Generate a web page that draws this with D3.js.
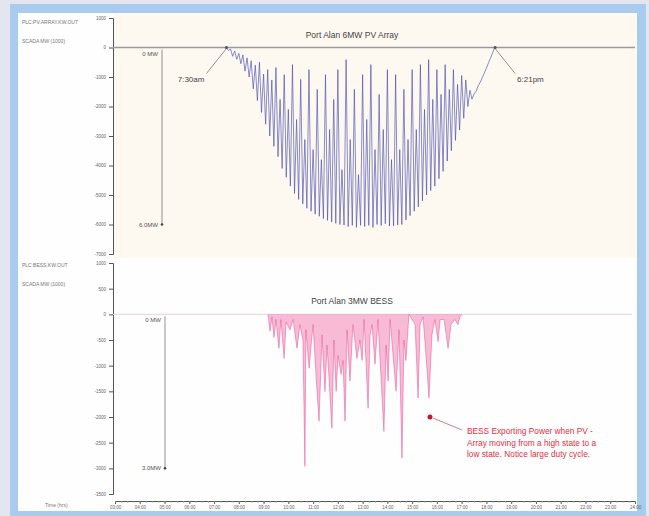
<!DOCTYPE html>
<html lang="en">
<head>
<meta charset="utf-8">
<style>
    body { margin: 0; background: #e4e6ef; }
    text { font-family: Arial, "Liberation Sans", sans-serif; }
</style>
</head>
<body>
    <script src="https://d3js.org/d3.v7.min.js"></script>
    <script>

        // PV array output, MW (negative = generating), logged every 5 min from 7:30am
        const pvStart = 7.5;
        const pvStepMin = 5;
        const pvMW = [
            0, -0.10, -0.05, -0.30, -0.12, -0.40, -0.20, -0.55, -0.25, -0.80, -0.35,
            -1.00, -0.45, -1.40, -0.60, -1.80, -0.50, -2.20, -0.90, -2.60, -0.75,
            -3.00, -1.10, -3.35, -0.68, -3.70, -1.76, -4.10, -0.92, -4.40, -2.10,
            -4.70, -0.58, -4.95, -2.44, -5.15, -1.08, -5.30, -3.12, -5.45, -0.75,
            -5.55, -3.46, -5.65, -1.42, -5.72, -3.80, -5.80, -0.92, -5.86, -2.78,
            -5.92, -1.76, -5.96, -0.75, -6.00, -4.14, -6.02, -0.41, -6.07, -3.12,
            -6.03, -1.42, -6.10, -4.31, -6.03, -0.92, -6.07, -2.44, -6.03, -0.58,
            -6.10, -3.46, -6.00, -1.59, -6.03, -2.78, -5.97, -0.75, -6.05, -3.80,
            -6.05, -0.92, -6.02, -3.46, -6.00, -1.42, -5.85, -3.12, -5.70, -0.75,
            -5.55, -2.78, -5.40, -0.58, -5.20, -2.10, -5.00, -0.41, -4.85, -1.76,
            -4.70, -0.75, -4.45, -1.59, -4.20, -0.58, -3.85, -1.42, -3.50, -0.75,
            -3.15, -1.25, -2.80, -0.95, -2.40, -1.10, -2.00, -1.45, -1.75, -1.58,
            -1.48, -1.30, -1.18, -1.02, -0.86, -0.70, -0.52, -0.36, -0.18, 0
        ];

        // BESS output, time in hours, MW
        const bessTime = [
            9.18, 9.26, 9.34, 9.42, 9.50, 9.62, 9.70, 9.83, 9.91, 10.07,
            10.19, 10.35, 10.47, 10.59, 10.67, 10.71, 10.84, 10.92, 11.00, 11.12,
            11.24, 11.36, 11.48, 11.56, 11.64, 11.76, 11.84, 11.93, 12.01, 12.13,
            12.21, 12.29, 12.37, 12.49, 12.61, 12.77, 12.89, 12.98, 13.06, 13.22,
            13.30, 13.38, 13.50, 13.62, 13.74, 13.86, 13.95, 14.03, 14.11, 14.23,
            14.35, 14.47, 14.59, 14.67, 14.75, 14.87, 15.12, 15.24, 15.32, 15.44,
            15.56, 15.68, 15.80, 15.92, 16.05, 16.13, 16.29, 16.45, 16.57, 16.73,
            16.85, 16.93, 17.01
        ];
        const bessMW = [
            0, -0.33, -0.05, -0.45, -0.10, -0.66, -0.10, -0.86, -0.15, -0.30,
            -0.10, -0.66, -0.20, -0.50, -2.96, -0.30, -1.05, -0.60, -0.20, -1.20,
            -2.08, -0.40, -1.50, -0.60, -1.20, -2.22, -0.50, -1.50, -0.80, -1.17,
            -0.90, -2.08, -0.30, -1.30, -0.20, -0.86, -0.50, -0.90, -0.10, -1.83,
            -0.40, -0.20, -0.97, -0.10, -1.20, -2.28, -0.60, -1.30, -0.10, -0.80,
            -1.50, -0.30, -2.80, -0.50, -0.90, 0, -0.20, -1.63, -0.20, -0.05,
            -0.80, -1.63, -0.40, -0.10, -0.53, -0.10, -0.10, -0.66, -0.20, -0.10,
            -0.20, -0.05, 0
        ];

        const hourTicks = [3, 4, 5, 6, 7, 8, 9, 10, 11, 12, 13, 14, 15, 16, 17, 18, 19, 20, 21, 22, 23, 24];
        const pvTicks = [1, 0, -1, -2, -3, -4, -5, -6, -7];
        const bessTicks = [1, 0.5, 0, -0.5, -1, -1.5, -2, -2.5, -3, -3.5];

        const width = 649;
        const height = 516;

        var svg = d3.select("body")
            .append("svg")
            .attr("width", width)
            .attr("height", height);

        // window frame
        svg.append("rect").attr("width", width).attr("height", height).attr("fill", "#e4e6ef");
        svg.append("rect").attr("x", 10).attr("y", 4).attr("width", 636).attr("height", 512).attr("fill", "#a9ccee");
        svg.append("rect").attr("x", 18).attr("y", 13).attr("width", 619).attr("height", 498).attr("fill", "#fefefe");
        svg.append("rect").attr("x", 114).attr("y", 13).attr("width", 523).attr("height", 245).attr("fill", "#fdf9f1");

        var x = d3.scaleLinear().domain([3, 24]).range([115, 635]);
        var yTop = d3.scaleLinear().domain([1, -7]).range([18, 254]);
        var yBot = d3.scaleLinear().domain([1, -3.5]).range([263, 494]);

        function styleAxis(g) {
            g.selectAll("path, line").attr("stroke", "#555");
            g.selectAll("text").attr("font-size", "4.5px").attr("fill", "#666");
        }

        svg.append("g")
            .attr("transform", "translate(113,0)")
            .call(d3.axisLeft(yTop).tickValues(pvTicks).tickSize(4).tickFormat(d => d * 1000))
            .call(styleAxis);

        svg.append("g")
            .attr("transform", "translate(113,0)")
            .call(d3.axisLeft(yBot).tickValues(bessTicks).tickSize(4).tickFormat(d => d * 1000))
            .call(styleAxis);

        svg.append("g")
            .attr("transform", "translate(0,501)")
            .call(d3.axisBottom(x).tickValues(hourTicks).tickSize(3).tickPadding(2)
                .tickFormat(d => String(d).padStart(2, "0") + ":00"))
            .call(styleAxis);

        // minor ticks on time axis
        svg.append("g")
            .attr("transform", "translate(0,501)")
            .call(d3.axisBottom(x).tickValues(d3.range(3, 24.01, 0.25)).tickSize(1.5).tickFormat(""))
            .call(g => g.select(".domain").remove())
            .call(g => g.selectAll("line").attr("stroke", "#888"));

        // left labels
        var leftLabels = [
            [22, 24, "PLC:PV.ARRAY.KW.OUT"],
            [22, 43, "SCADA MW (1000)"],
            [22, 267, "PLC:BESS.KW.OUT"],
            [22, 286, "SCADA MW (1000)"],
            [45, 507, "Time (hrs)"]
        ];
        svg.selectAll(".lbl").data(leftLabels).enter().append("text")
            .attr("x", d => d[0]).attr("y", d => d[1])
            .attr("font-size", "5px").attr("fill", "#777")
            .text(d => d[2]);

        // ---- top panel: PV ----
        svg.append("line")
            .attr("x1", 113).attr("x2", 635)
            .attr("y1", yTop(0)).attr("y2", yTop(0))
            .attr("stroke", "#9a9a9a").attr("stroke-width", 1.3);

        svg.append("text")
            .attr("x", 352).attr("y", 38)
            .attr("text-anchor", "middle").attr("font-size", "8.5px").attr("fill", "#444")
            .text("Port Alan 6MW PV Array");

        var pvData = pvMW.map((v, i) => ({ t: pvStart + i * pvStepMin / 60, v: v }));
        svg.append("path")
            .datum(pvData)
            .attr("fill", "none")
            .attr("stroke", "#4a4eae")
            .attr("stroke-width", 0.9)
            .attr("stroke-opacity", 0.72)
            .attr("d", d3.line().x(d => x(d.t)).y(d => yTop(d.v)));

        // sunrise / sunset markers
        var pvMarks = [[7.5, "7:30am", -1], [18.35, "6:21pm", 1]];
        pvMarks.forEach(function (m) {
            var mx = x(m[0]), my = yTop(0);
            svg.append("line")
                .attr("x1", mx).attr("y1", my + 1)
                .attr("x2", mx + m[2] * 20).attr("y2", my + 26)
                .attr("stroke", "#666").attr("stroke-width", 0.7);
            svg.append("circle").attr("cx", mx).attr("cy", my).attr("r", 1.5).attr("fill", "#555");
            svg.append("text")
                .attr("x", mx + m[2] * 22).attr("y", my + 34)
                .attr("text-anchor", m[2] < 0 ? "end" : "start")
                .attr("font-size", "8px").attr("fill", "#444")
                .text(m[1]);
        });

        // scale bar
        function scaleBar(xPos, yScale, lo, label0, label1) {
            svg.append("line")
                .attr("x1", xPos).attr("x2", xPos)
                .attr("y1", yScale(0) + 2).attr("y2", yScale(lo))
                .attr("stroke", "#777").attr("stroke-width", 0.8);
            svg.append("circle").attr("cx", xPos).attr("cy", yScale(lo)).attr("r", 1.3).attr("fill", "#444");
            svg.append("text").attr("x", xPos - 4).attr("y", yScale(0) + 8)
                .attr("text-anchor", "end").attr("font-size", "6px").attr("fill", "#555").text(label0);
            svg.append("text").attr("x", xPos - 4).attr("y", yScale(lo) + 2)
                .attr("text-anchor", "end").attr("font-size", "6px").attr("fill", "#555").text(label1);
        }
        scaleBar(162, yTop, -6, "0 MW", "6.0MW");

        // ---- bottom panel: BESS ----
        svg.append("line")
            .attr("x1", 113).attr("x2", 632)
            .attr("y1", yBot(0)).attr("y2", yBot(0))
            .attr("stroke", "#e6d3d8").attr("stroke-width", 1);

        svg.append("text")
            .attr("x", 352).attr("y", 304)
            .attr("text-anchor", "middle").attr("font-size", "8.5px").attr("fill", "#444")
            .text("Port Alan 3MW BESS");

        scaleBar(165, yBot, -3, "0 MW", "3.0MW");

        var bessData = bessTime.map((t, i) => ({ t: t, v: bessMW[i] }));
        svg.append("path")
            .datum(bessData)
            .attr("fill", "#f0609f")
            .attr("fill-opacity", 0.42)
            .attr("d", d3.area().x(d => x(d.t)).y0(yBot(0)).y1(d => yBot(d.v)));
        svg.append("path")
            .datum(bessData)
            .attr("fill", "none")
            .attr("stroke", "#e2408a")
            .attr("stroke-width", 0.7)
            .attr("stroke-opacity", 0.65)
            .attr("d", d3.line().x(d => x(d.t)).y(d => yBot(d.v)));

        // red annotation
        var noteAt = { t: 15.72, v: -2.0 };
        var nx = x(noteAt.t), ny = yBot(noteAt.v);
        svg.append("line")
            .attr("x1", nx + 3).attr("y1", ny + 1)
            .attr("x2", nx + 32).attr("y2", ny + 13)
            .attr("stroke", "#c65a70").attr("stroke-width", 0.8);
        svg.append("circle").attr("cx", nx).attr("cy", ny).attr("r", 2.5).attr("fill", "#c0183c");

        var noteLines = [
            "BESS Exporting Power when PV -",
            "Array moving from a high state to a",
            "low state. Notice large duty cycle."
        ];
        svg.selectAll(".note").data(noteLines).enter().append("text")
            .attr("x", nx + 37)
            .attr("y", (d, i) => ny + 17 + i * 11.7)
            .attr("font-size", "8.3px")
            .attr("fill", "#e3303f")
            .text(d => d);

    </script>
</body>
</html>
